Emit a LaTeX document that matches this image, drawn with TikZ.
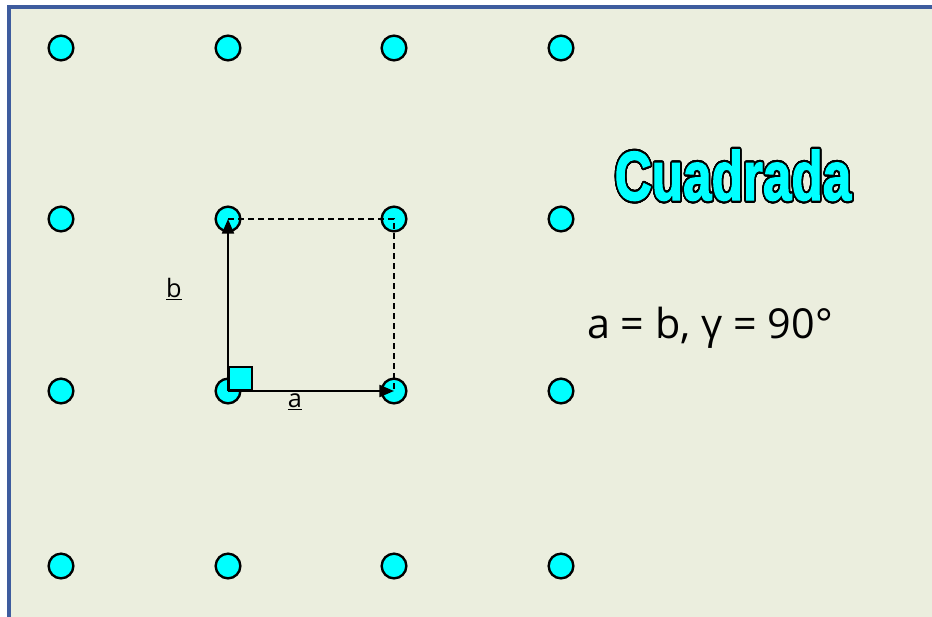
\documentclass[tikz,border=0pt]{standalone}
\usepackage{fontspec}
\setmainfont{Open Sans}
\newfontfamily\titlefont{Liberation Sans Bold}[BoldFont=Liberation Sans Bold, BoldFeatures={FakeBold=2}]
\usepackage{contour}
\usetikzlibrary{arrows.meta}
\definecolor{fondo}{RGB}{235,238,222}
\definecolor{marco}{RGB}{62,92,158}
\definecolor{celeste}{RGB}{0,255,255}
\contourlength{1.6pt}
\contournumber{32}

\begin{document}
\begin{tikzpicture}[x=0.75pt,y=-0.75pt,
			nodo/.style={circle, draw, line width=1.8pt, fill=celeste, minimum size=18.5pt, inner sep=0pt},
			cuadro/.style={rectangle, draw, line width=1.3pt, fill=celeste, minimum size=17.5pt, inner sep=0pt},
			vec/.style={line width=1.6pt, -{Triangle[length=11pt,width=9pt]}},
			guia/.style={line width=0.9pt, dash pattern=on 4.5pt off 3pt},
			etiq/.style={inner sep=0pt, font=\fontsize{19}{23}\selectfont}
			]
			\useasboundingbox (0,0) rectangle (932,617);
			\fill[fondo] (9,7) rectangle (932,617);
			\draw[marco, line width=2.4pt] (9,617) -- (9,7) -- (932,7);
			% red cuadrada
			\foreach \x [count=\i] in {61,228,394,561}
				\foreach \y [count=\j] in {48,219,391,566}
					\node[nodo] (p\j\i) at (\x,\y) {};
			\draw[guia] (p22.center) -- (p23.center) -- (p33.center);
			\draw[vec] (p32.center) -- (p33.center);
			\draw[vec] (p32.center) -- (p22.center);
			\node[cuadro, anchor=south west] (ang) at (p32.center) {};
			\node[etiq] (la) at (295,402) {\underline{a}};
			\node[etiq] (lb) at (174,289) {\underline{b}};
			\node[anchor=base, inner sep=0pt] (tit) at (733,200)
				{\titlefont\bfseries\fontsize{52}{56}\selectfont\scalebox{0.74}[1]{\contour{black}{\textcolor{celeste}{Cuadrada}}}};
			\node[anchor=base west, inner sep=0pt, font=\fontsize{31}{36}\selectfont] (rel) at (587,338) {a = b, γ = 90°};
		\end{tikzpicture}
\end{document}
